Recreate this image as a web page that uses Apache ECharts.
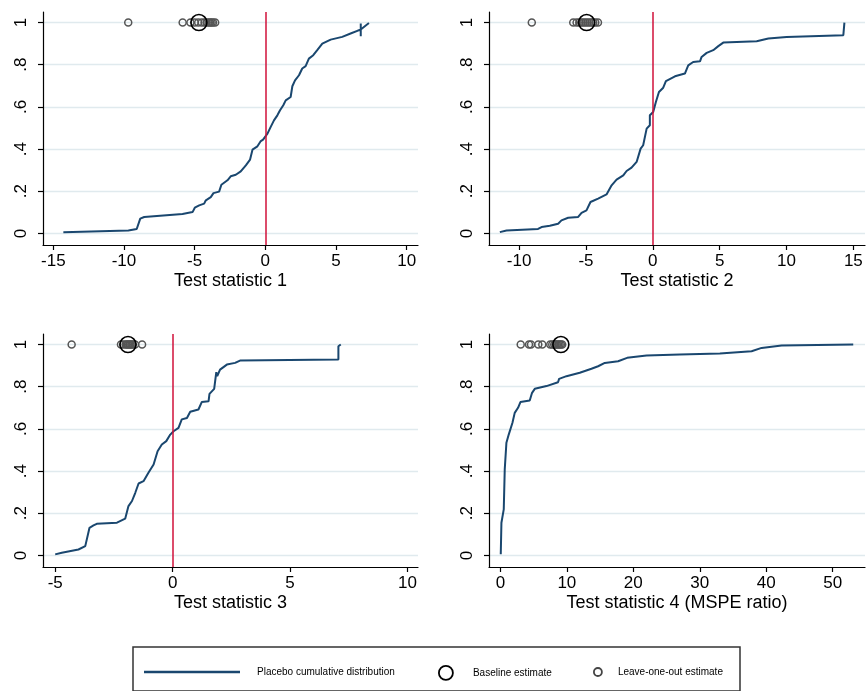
<!DOCTYPE html>
<html>
<head>
<meta charset="utf-8">
<script src="https://cdn.jsdelivr.net/npm/echarts@6/dist/echarts.min.js"></script>
<style>
html, body { margin: 0; padding: 0; background: #fff; }
#chart { width: 866px; height: 691px; }
</style>
</head>
<body>
<div id="chart"></div>
<script>
// placebo cumulative distributions, [statistic, share]
const placebo1 = [[-14.29,0.006],[-9.69,0.014],[-9.10,0.021],[-8.85,0.07],[-8.57,0.078],[-5.86,0.092],[-5.15,0.101],[-4.99,0.122],[-4.68,0.133],[-4.33,0.141],[-4.21,0.157],[-3.86,0.172],[-3.67,0.191],[-3.27,0.198],[-3.11,0.231],[-2.68,0.252],[-2.45,0.271],[-2.09,0.278],[-1.74,0.294],[-1.38,0.323],[-1.08,0.35],[-0.91,0.397],[-0.56,0.413],[-0.32,0.438],[-0.16,0.445],[0.15,0.473],[0.38,0.505],[0.61,0.536],[0.85,0.56],[1.04,0.584],[1.27,0.608],[1.44,0.631],[1.79,0.647],[1.91,0.698],[2.10,0.726],[2.38,0.75],[2.61,0.782],[2.85,0.793],[3.08,0.829],[3.39,0.845],[3.67,0.869],[4.03,0.9],[4.62,0.919],[5.44,0.932],[6.03,0.948],[6.55,0.962],[6.75,0.966],[6.75,0.935],[6.75,0.995],[6.75,0.967],[7.33,0.998]];
const placebo2 = [[-11.44,0.006],[-10.94,0.014],[-8.58,0.021],[-8.32,0.03],[-7.70,0.036],[-7.08,0.046],[-6.83,0.062],[-6.33,0.074],[-5.58,0.078],[-5.33,0.097],[-4.96,0.109],[-4.66,0.149],[-4.09,0.165],[-3.46,0.185],[-3.08,0.228],[-2.71,0.255],[-2.21,0.275],[-1.96,0.296],[-1.59,0.312],[-1.21,0.339],[-0.91,0.402],[-0.72,0.418],[-0.46,0.497],[-0.22,0.513],[-0.22,0.56],[0.03,0.576],[0.23,0.623],[0.46,0.671],[0.78,0.691],[0.98,0.722],[1.66,0.745],[2.40,0.758],[2.65,0.797],[3.02,0.813],[3.53,0.816],[3.65,0.837],[4.03,0.856],[4.52,0.869],[4.90,0.888],[5.27,0.905],[7.77,0.911],[8.64,0.924],[10.01,0.932],[14.25,0.94],[14.33,1.0]];
const placebo3 = [[-5.00,0.005],[-4.72,0.013],[-4.01,0.028],[-3.72,0.044],[-3.54,0.131],[-3.37,0.142],[-3.23,0.15],[-2.37,0.155],[-2.02,0.174],[-1.88,0.234],[-1.73,0.258],[-1.59,0.297],[-1.45,0.341],[-1.24,0.352],[-1.03,0.392],[-0.81,0.431],[-0.64,0.494],[-0.46,0.526],[-0.27,0.542],[-0.10,0.573],[0.04,0.589],[0.25,0.605],[0.39,0.645],[0.61,0.652],[0.75,0.681],[1.10,0.692],[1.24,0.727],[1.53,0.731],[1.57,0.766],[1.77,0.79],[1.86,0.869],[1.90,0.85],[2.02,0.881],[2.31,0.905],[2.66,0.913],[2.87,0.924],[7.06,0.929],[7.06,0.992],[7.16,1.0]];
const placebo4 = [[0.05,0.005],[0.15,0.155],[0.50,0.218],[0.65,0.408],[0.90,0.534],[1.25,0.573],[1.81,0.629],[2.15,0.676],[2.65,0.7],[3.01,0.727],[4.41,0.735],[4.76,0.771],[5.17,0.79],[6.93,0.803],[7.17,0.81],[8.67,0.821],[8.83,0.837],[9.94,0.85],[11.94,0.866],[12.20,0.874],[13.70,0.885],[14.70,0.897],[15.71,0.913],[17.71,0.921],[19.07,0.937],[21.99,0.948],[27.0,0.953],[33.03,0.957],[37.80,0.968],[39.31,0.984],[42.32,0.995],[53.1,1.0]];

// leave-one-out and baseline estimates
const leaveOut1 = [-9.7,-5.85,-5.3,-5.0,-4.75,-4.5,-4.3,-4.15,-4.0,-3.9,-3.8,-3.7,-3.55];
const leaveOut2 = [-9.05,-5.95,-5.7,-5.5,-5.35,-5.2,-5.05,-4.9,-4.75,-4.6,-4.45,-4.3,-4.1];
const leaveOut3 = [-4.3,-2.2,-2.1,-2.0,-1.95,-1.9,-1.85,-1.8,-1.75,-1.7,-1.6,-1.3];
const leaveOut4 = [3.05,4.3,4.6,5.7,6.3,7.5,7.8,8.1,8.3,8.5,8.7,8.9,9.1,9.3];
const baseline = [-4.7, -4.95, -1.9, 9.1];

// axis ticks
const xTicks1 = [-15,-10,-5,0,5,10];
const xTicks2 = [-10,-5,0,5,10,15];
const xTicks3 = [-5,0,5,10];
const xTicks4 = [0,10,20,30,40,50];
const yTicks = [0,0.2,0.4,0.6,0.8,1];
const xTitles = ['Test statistic 1','Test statistic 2','Test statistic 3','Test statistic 4 (MSPE ratio)'];

const FONT = 'Liberation Sans, Arial, sans-serif';
const NAVY = '#1a476f';
const RED = '#d0103a';

const panels = [
    { grid: { left: 43, top: 12, width: 375, height: 233 }, xMin: -15.73, xMax: 10.8, ticks: xTicks1, cdf: placebo1, loo: leaveOut1, zero: true },
    { grid: { left: 489, top: 12, width: 376, height: 233 }, xMin: -12.25, xMax: 15.87, ticks: xTicks2, cdf: placebo2, loo: leaveOut2, zero: true },
    { grid: { left: 43, top: 334, width: 375, height: 233 }, xMin: -5.52, xMax: 10.45, ticks: xTicks3, cdf: placebo3, loo: leaveOut3, zero: true },
    { grid: { left: 489, top: 334, width: 376, height: 233 }, xMin: -1.72, xMax: 54.87, ticks: xTicks4, cdf: placebo4, loo: leaveOut4, zero: false }
];

const grids = [], xAxes = [], yAxes = [], series = [];

panels.forEach((p, i) => {
    grids.push(p.grid);
    xAxes.push({
        type: 'value', gridIndex: i, min: p.xMin, max: p.xMax,
        name: xTitles[i], nameLocation: 'middle', nameGap: 27,
        nameTextStyle: { fontSize: 18, color: '#000', fontFamily: FONT },
        axisLine: { onZero: false, lineStyle: { color: '#000', width: 1.2 } },
        axisTick: { show: true, length: 5, customValues: p.ticks, lineStyle: { color: '#000', width: 1.2 } },
        axisLabel: { customValues: p.ticks, margin: 8, fontSize: 17, color: '#000', fontFamily: FONT },
        splitLine: { show: false }
    });
    yAxes.push({
        type: 'value', gridIndex: i, min: -0.055, max: 1.05,
        axisLine: { show: true, onZero: false, lineStyle: { color: '#000', width: 1.2 } },
        axisTick: { show: true, length: 5, customValues: yTicks, lineStyle: { color: '#000', width: 1.2 } },
        axisLabel: {
            customValues: yTicks, rotate: 90, margin: 13, fontSize: 17, color: '#000', fontFamily: FONT,
            formatter: v => (v === 0 || v === 1) ? String(v) : String(v).replace('0.', '.')
        },
        splitLine: { show: true, lineStyle: { color: '#e0eaee', width: 1.3 } }
    });

    series.push({
        name: 'Placebo cumulative distribution', type: 'line',
        xAxisIndex: i, yAxisIndex: i, data: p.cdf,
        showSymbol: false, symbol: 'none', z: 3,
        lineStyle: { color: NAVY, width: 2 },
        itemStyle: { color: NAVY },
        markLine: p.zero ? {
            silent: true, symbol: 'none', label: { show: false },
            lineStyle: { color: RED, width: 1.5, type: 'solid' },
            data: [{ xAxis: 0 }]
        } : undefined
    });
    series.push({
        name: 'Leave-one-out estimate', type: 'scatter',
        xAxisIndex: i, yAxisIndex: i, data: p.loo.map(v => [v, 1]),
        symbol: 'circle', symbolSize: 7, z: 4,
        itemStyle: { color: 'rgba(0,0,0,0)', borderColor: '#555', borderWidth: 1.5, opacity: 1 }
    });
    series.push({
        name: 'Baseline estimate', type: 'scatter',
        xAxisIndex: i, yAxisIndex: i, data: [[baseline[i], 1]],
        symbol: 'circle', symbolSize: 16, z: 5,
        itemStyle: { color: 'rgba(0,0,0,0)', borderColor: '#000', borderWidth: 1.6, opacity: 1 }
    });
});

const legendText = { fontSize: 10, color: '#000', fontFamily: FONT, lineHeight: 14 };

const chart = echarts.init(document.getElementById('chart'), null, { renderer: 'canvas' });
chart.setOption({
    backgroundColor: '#fff',
    animation: false,
    grid: grids,
    xAxis: xAxes,
    yAxis: yAxes,
    legend: [
        {
            left: 144, top: 665, selectedMode: false, padding: 0,
            data: ['Placebo cumulative distribution'],
            icon: 'rect', itemWidth: 96, itemHeight: 2.5,
            itemStyle: { color: NAVY, borderWidth: 0 },
            textStyle: Object.assign({ padding: [0, 0, 0, 12] }, legendText)
        },
        {
            left: 438, top: 665, selectedMode: false, padding: 0,
            data: ['Baseline estimate'],
            icon: 'circle', itemWidth: 14, itemHeight: 14,
            itemStyle: { color: 'rgba(0,0,0,0)', borderColor: '#000', borderWidth: 1.8 },
            textStyle: Object.assign({ padding: [0, 0, 0, 15] }, legendText)
        },
        {
            left: 593, top: 665, selectedMode: false, padding: 0,
            data: ['Leave-one-out estimate'],
            icon: 'circle', itemWidth: 8, itemHeight: 8,
            itemStyle: { color: 'rgba(0,0,0,0)', borderColor: '#444', borderWidth: 1.8 },
            textStyle: Object.assign({ padding: [0, 0, 0, 11] }, legendText)
        }
    ],
    graphic: [{
        type: 'rect', silent: true, z: -1,
        shape: { x: 133, y: 647, width: 607, height: 44 },
        style: { fill: '#fff', stroke: '#333', lineWidth: 1.5 }
    }],
    series: series
});
</script>
</body>
</html>
